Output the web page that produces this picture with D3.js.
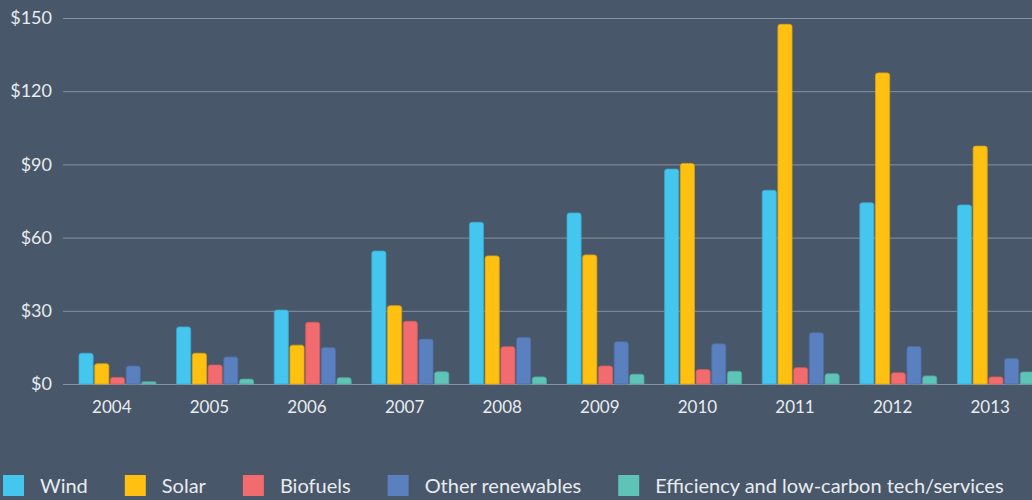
<!DOCTYPE html>
<html>
<head>
<meta charset="utf-8">
<script src="https://cdn.jsdelivr.net/npm/d3@7"></script>
<style>
  html, body { margin: 0; padding: 0; background: #485769; }
  svg { display: block; }
</style>
</head>
<body>
<div id="chart"></div>
<script>
const years = ["2004", "2005", "2006", "2007", "2008", "2009", "2010", "2011", "2012", "2013"];
const seriesNames = ["Wind", "Solar", "Biofuels", "Other renewables", "Efficiency and low-carbon tech/services"];
const wind = [12.6, 23.4, 30.3, 54.5, 66.3, 70.1, 88.1, 79.4, 74.3, 73.4];
const solar = [8.3, 12.6, 15.9, 32.1, 52.5, 52.9, 90.4, 147.4, 127.5, 97.5];
const biofuels = [2.7, 7.8, 25.3, 25.7, 15.3, 7.4, 5.9, 6.7, 4.6, 2.9];
const otherRenewables = [7.4, 11.1, 15.0, 18.4, 19.1, 17.3, 16.5, 21.0, 15.4, 10.5];
const efficiency = [0.9, 2.0, 2.6, 5.0, 2.9, 4.0, 5.2, 4.2, 3.3, 4.9];
const yTicks = [0, 30, 60, 90, 120, 150];

const palette = {
  bg: "#485769",
  grid: "#8792a0",
  text: "#e8ecef",
  series: ["#44c6ef", "#fec111", "#f26b6e", "#5b80c0", "#5ec4b8"],
  edge: ["#3aa9cc", "#d9a30f", "#cf5c5e", "#4e6da4", "#50a79d"]
};

const seriesValues = [wind, solar, biofuels, otherRenewables, efficiency];

const width = 1032;
const height = 500;

const svg = d3.select("#chart")
  .append("svg")
  .attr("width", width)
  .attr("height", height)
  .style("font-family", "Lato, 'Open Sans', sans-serif");

svg.append("rect")
  .attr("width", width)
  .attr("height", height)
  .attr("fill", palette.bg);

const x0 = d3.scaleBand().domain(years).range([63, 1039]);
const x1 = d3.scaleBand().domain(seriesNames).range([16, 93]).paddingInner(0.1);
const y = d3.scaleLinear().domain([0, 150]).range([384, 18]);

// gridlines + y labels
const yAxis = svg.append("g")
  .attr("transform", "translate(63,0)")
  .call(d3.axisLeft(y).tickValues(yTicks).tickFormat((d) => `$${d}`).tickSize(-(width - 63)).tickPadding(11));
yAxis.select(".domain").remove();
yAxis.selectAll(".tick line").attr("stroke", palette.grid).attr("stroke-width", 1);
yAxis.selectAll(".tick text")
  .attr("fill", palette.text)
  .attr("font-size", 18)
  .attr("font-family", "Lato, 'Open Sans', sans-serif");

// x labels
const xAxis = svg.append("g")
  .attr("transform", "translate(0,384)")
  .call(d3.axisBottom(x0).tickSize(0).tickPadding(17));
xAxis.select(".domain").remove();
xAxis.selectAll(".tick text")
  .attr("fill", palette.text)
  .attr("font-size", 17)
  .attr("font-family", "Lato, 'Open Sans', sans-serif");

function barPath(x, top, w, bottom) {
  const r = Math.min(2.5, (bottom - top) / 2, w / 2);
  return `M${x},${bottom}V${top + r}Q${x},${top} ${x + r},${top}H${x + w - r}Q${x + w},${top} ${x + w},${top + r}V${bottom}Z`;
}

const rows = years.map((year, i) => ({
  year,
  bars: seriesNames.map((name, s) => ({ name, s, value: seriesValues[s][i] }))
}));

const groups = svg.append("g")
  .selectAll("g")
  .data(rows)
  .join("g")
  .attr("transform", (d) => `translate(${x0(d.year)},0)`);

groups.selectAll("path")
  .data((d) => d.bars)
  .join("path")
  .attr("d", (d) => barPath(x1(d.name), y(d.value), x1.bandwidth(), y(0)))
  .attr("fill", (d) => palette.series[d.s])
  .attr("stroke", (d) => palette.edge[d.s])
  .attr("stroke-width", 0.8);

// legend
const legend = svg.append("g").attr("transform", "translate(3,475)");
let lx = 0;
seriesNames.forEach((name, s) => {
  const item = legend.append("g").attr("transform", `translate(${lx},0)`);
  item.append("rect")
    .attr("width", 21)
    .attr("height", 21)
    .attr("fill", palette.series[s]);
  const t = item.append("text")
    .attr("x", 37)
    .attr("y", 18)
    .attr("fill", palette.text)
    .attr("font-size", 20)
    .text(name);
  lx += 37 + t.node().getComputedTextLength() + 37;
});
</script>
</body>
</html>
